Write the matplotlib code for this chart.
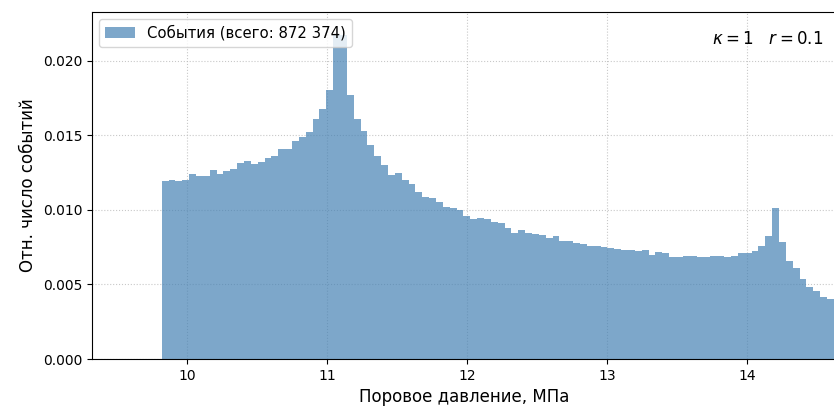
import matplotlib
matplotlib.use("Agg")
import matplotlib.pyplot as plt
import numpy as np

# гистограмма порового давления (нормированная), ширина бина ~0.049 МПа
bin_start = 9.817
bin_width = 0.049
rel_counts = [
    0.0119, 0.0120, 0.0119, 0.0120, 0.01237, 0.0123, 0.0123, 0.01266, 0.0124, 0.01257,
    0.01275, 0.01311, 0.01327, 0.01306, 0.0132, 0.01349, 0.01358, 0.01409, 0.0141, 0.01461,
    0.01488, 0.01521, 0.01611, 0.01678, 0.01801, 0.0218, 0.0217, 0.01767, 0.01611, 0.01526,
    0.01434, 0.01358, 0.01298, 0.01235, 0.0125, 0.01199, 0.01172, 0.01121, 0.01087, 0.01078,
    0.01052, 0.01016, 0.01009, 0.0100, 0.0096, 0.0094, 0.00948, 0.00937, 0.0092, 0.0091,
    0.00881, 0.00846, 0.00864, 0.00848, 0.00839, 0.00832, 0.0081, 0.00826, 0.0079, 0.0079,
    0.0078, 0.00772, 0.0076, 0.0076, 0.00754, 0.00743, 0.0074, 0.00733, 0.0073, 0.00724,
    0.00728, 0.00699, 0.00719, 0.00713, 0.00686, 0.00685, 0.00692, 0.00688, 0.00681, 0.00684,
    0.00693, 0.00693, 0.00687, 0.0069, 0.00708, 0.00708, 0.00723, 0.00757, 0.00826, 0.01009,
    0.00781, 0.00657, 0.0061, 0.00538, 0.00485, 0.00456, 0.00414, 0.0040,
]
total_events = "872 374"
kappa = 1
r = 0.1

edges = bin_start + bin_width * np.arange(len(rel_counts) + 1)
centers = 0.5 * (edges[:-1] + edges[1:])

fig = plt.figure(figsize=(8.34, 4.11), dpi=100)
ax = fig.add_axes([0.1103, 0.1265, 0.892, 0.845])

ax.hist(centers, bins=edges, weights=rel_counts, histtype="stepfilled",
        color="steelblue", alpha=0.7, label=f"События (всего: {total_events})")

ax.set_xlim(9.319, 14.634)
ax.set_ylim(0, 0.02328)
ax.set_xticks([10, 11, 12, 13, 14])
ax.set_yticks([0.0, 0.005, 0.010, 0.015, 0.020])
ax.set_yticklabels(["0.000", "0.005", "0.010", "0.015", "0.020"])
ax.grid(True, linestyle=":", color="#bbbbbb", linewidth=0.8, alpha=0.8)
ax.set_axisbelow(True)

ax.set_xlabel("Поровое давление, МПа", fontsize=12)
ax.set_ylabel("Отн. число событий", fontsize=12)
ax.legend(loc="upper left", fontsize=10.7)
ax.text(0.9825, 0.948, rf"$\kappa = {kappa} \quad r = {r}$", transform=ax.transAxes,
        ha="right", va="top", fontsize=12)

fig.savefig("out.png", dpi=100)
